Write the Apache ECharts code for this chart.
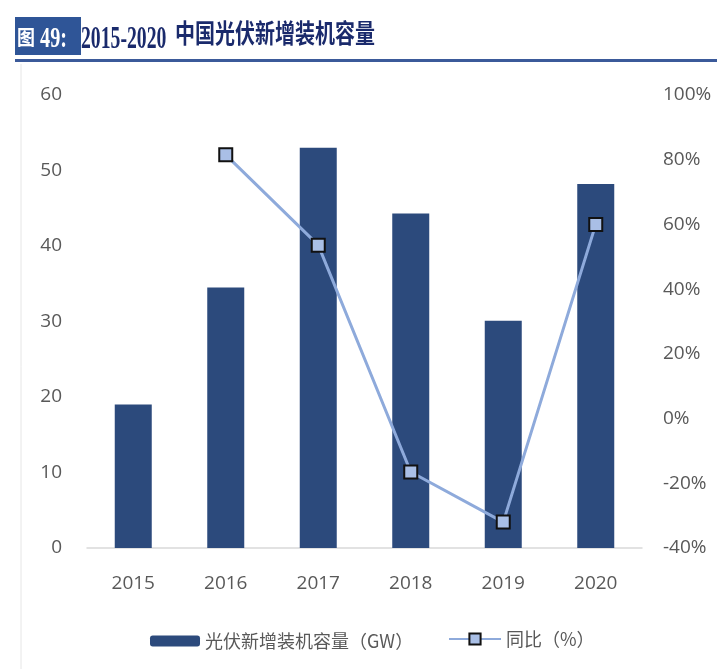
<!DOCTYPE html>
<html>
<head>
<meta charset="utf-8">
<script src="https://cdn.jsdelivr.net/npm/echarts@6/dist/echarts.min.js"></script>
<style>
  html, body { margin: 0; padding: 0; background: #fff; }
  #box1 { width: 720px; height: 669px; }
</style>
</head>
<body>
<div id="box1"></div>
<script>
var years = ['2015', '2016', '2017', '2018', '2019', '2020'];
var capacity = [19.0, 34.5, 53.0, 44.3, 30.1, 48.2];   // 光伏新增装机容量（GW）
var yoy = [null, 81.5, 53.6, -16.5, -32.0, 60.0];      // 同比（%）

var chartDom = document.getElementById('box1');
var myChart = echarts.init(chartDom);

var labelFont = {
    color: '#595959',
    fontSize: 19,
    fontFamily: 'Open Sans, Noto Sans, sans-serif'
};

var titleFont = '"Liberation Serif", "Noto Sans CJK SC", serif';

var option = {
    animation: false,
    graphic: [
        { type: 'rect', shape: { x: 15, y: 17, width: 66, height: 38 }, style: { fill: '#2f5597' } },
        { type: 'text', x: 17, y: 29, scaleY: 1.15, style: { text: '图', fill: '#fff', font: 'bold 18px ' + titleFont } },
        { type: 'text', x: 40, y: 25, scaleX: 0.75, scaleY: 1.08, style: { text: '49:', fill: '#fff', font: 'bold 27px ' + titleFont } },
        { type: 'text', x: 81, y: 24, scaleX: 0.68, scaleY: 1.1, style: { text: '2015-2020', fill: '#1a2a6c', font: 'bold 29px ' + titleFont } },
        { type: 'text', x: 175, y: 23, scaleY: 1.3, style: { text: '中国光伏新增装机容量', fill: '#1a2a6c', font: 'bold 20px ' + titleFont } },
        { type: 'rect', shape: { x: 15, y: 59, width: 702, height: 3 }, style: { fill: '#3b5a9a' } },
        { type: 'line', shape: { x1: 21, y1: 64, x2: 21, y2: 669 }, style: { stroke: '#e6e6e6', lineWidth: 1 } }
    ],
    grid: { left: 87, right: 78, top: 95, bottom: 121 },
    legend: [{
        data: ['光伏新增装机容量（GW）'],
        left: 145,
        top: 627,
        itemWidth: 50,
        itemHeight: 11,
        textStyle: { color: '#595959', fontSize: 18, fontFamily: 'Noto Sans CJK SC' }
    }, {
        data: ['同比（%）'],
        left: 443,
        top: 625,
        itemWidth: 52,
        itemHeight: 14,
        textStyle: { color: '#595959', fontSize: 18, fontFamily: 'Noto Sans CJK SC' }
    }],
    xAxis: {
        type: 'category',
        data: years,
        axisLine: { lineStyle: { color: '#d9d9d9', width: 1.5 } },
        axisTick: { show: false },
        axisLabel: Object.assign({ margin: 26 }, labelFont)
    },
    yAxis: [{
        type: 'value',
        min: 0,
        max: 60,
        interval: 10,
        splitLine: { show: false },
        axisLine: { show: false },
        axisLabel: Object.assign({ margin: 25 }, labelFont)
    }, {
        type: 'value',
        min: -40,
        max: 100,
        interval: 20,
        splitLine: { show: false },
        axisLine: { show: false },
        axisLabel: Object.assign({ margin: 21, formatter: '{value}%' }, labelFont)
    }],
    series: [{
        name: '光伏新增装机容量（GW）',
        type: 'bar',
        data: capacity,
        barWidth: 37,
        itemStyle: { color: '#2c4a7c' }
    }, {
        name: '同比（%）',
        type: 'line',
        yAxisIndex: 1,
        data: yoy,
        symbol: 'rect',
        symbolSize: 13,
        lineStyle: { color: '#8eaadb', width: 3 },
        itemStyle: { color: '#a9bfe6', borderColor: '#111', borderWidth: 2 }
    }]
};

myChart.setOption(option);
</script>
</body>
</html>
